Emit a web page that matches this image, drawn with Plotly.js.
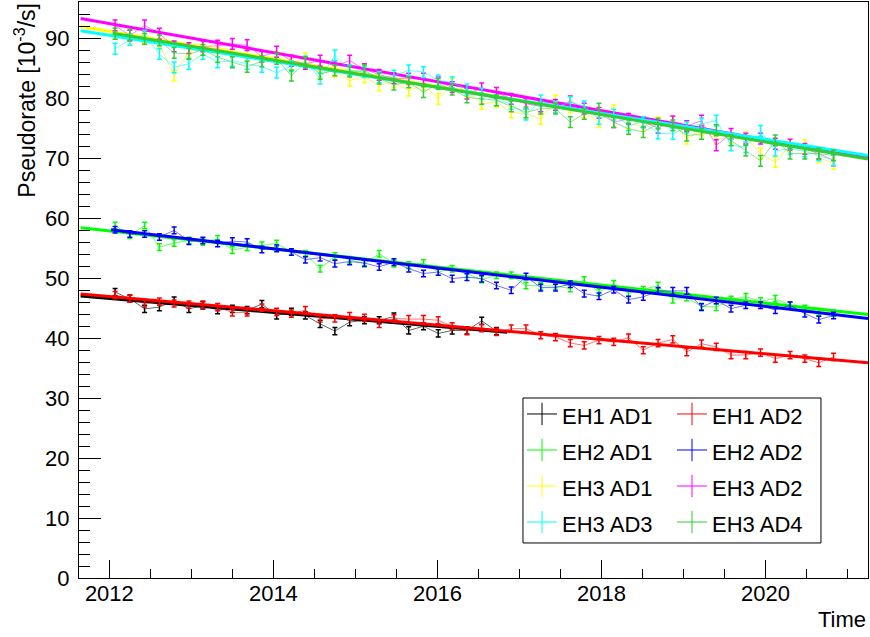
<!DOCTYPE html>
<html><head><meta charset="utf-8">
<script src="https://cdn.plot.ly/plotly-3.0.1.min.js"></script>
<style>html,body{margin:0;padding:0;background:#fff}#chart{width:870px;height:637px}</style>
</head><body><div id="chart"></div>
<script>
// Time of each point (decimal year)
const time = [2012.07, 2012.25, 2012.43, 2012.61, 2012.79, 2012.97, 2013.14, 2013.32, 2013.50, 2013.68,
  2013.86, 2014.04, 2014.22, 2014.39, 2014.57, 2014.75, 2014.93, 2015.11, 2015.29, 2015.47,
  2015.65, 2015.83, 2016.01, 2016.18, 2016.36, 2016.54, 2016.72, 2016.90, 2017.08, 2017.26,
  2017.44, 2017.62, 2017.79, 2017.97, 2018.15, 2018.33, 2018.51, 2018.69, 2018.87, 2019.04,
  2019.22, 2019.40, 2019.58, 2019.76, 2019.94, 2020.12, 2020.30, 2020.48, 2020.65, 2020.83];

const eh1ad1 = [47.7, 46.6, 44.9, 45.2, 46.3, 44.9, 45.5, 44.7, 44.9, 44.7, 45.7, 43.8, 44.4, 43.8, 42.4, 41.2, 42.7,
  43.0, 43.0, 43.6, 41.3, 42.0, 40.8, 41.3, 41.3, 42.9, 41.2];
const eh1ad2 = [47.2, 46.6, 45.8, 46.1, 45.8, 45.6, 45.6, 45.2, 44.3, 44.3, 45.1, 44.4, 44.1, 44.7, 43.3, 43.3,
  43.7, 43.4, 42.4, 43.3, 43.2, 43.2, 43.0, 42.0, 41.2, 41.7, 41.05, 41.6, 41.6, 40.5, 40.2, 39.2, 38.8, 39.7, 39.4, 40.1,
  38.0, 39.2, 39.8, 37.7, 39.1, 38.55, 37.2, 37.2, 37.6, 36.6, 37.2, 36.6, 35.9, 36.9];
const eh2ad1 = [58.8, 57.2, 58.8, 55.2, 55.9, 56.3, 56.05, 56.6, 54.7, 55.2, 55.5, 55.8, 54.4, 54.1, 51.6, 53.7, 53.1,
  52.45, 54.1, 52.45, 52.2, 52.55, 51.05, 51.6, 50.7, 49.8, 50.5, 50.5, 48.8, 48.7, 48.7, 48.3, 49.7, 47.7, 49.1, 47.5,
  48.1, 48.8, 46.45, 46.8, 45.3, 45.2, 46.45, 46.9, 46.2, 46.6, 45.5, 44.95, 44.4, 44.2];
const eh2ad2 = [58.1, 57.4, 57.4, 56.9, 58.0, 56.2, 56.3, 55.8, 56.2, 56.05, 54.8, 55.0, 54.4, 53.1, 53.45, 52.45, 52.8,
  52.55, 51.9, 52.7, 51.6, 50.8, 51.05, 49.95, 50.2, 49.95, 48.8, 48.0, 50.3, 48.45, 48.45, 49.0, 47.45, 47.0, 48.1, 46.45,
  46.9, 47.9, 47.9, 47.9, 45.2, 46.3, 44.95, 45.5, 45.5, 44.7, 45.5, 44.1, 43.1, 43.8];
const eh3ad1 = [90.8, 89.95, 90.2, 89.1, 83.8, 88.0, 88.0, 88.55, 88.0, 87.2, 86.9, 86.9,
  85.8, 86.7, 84.4, 84.5, 83.0, 83.55, 82.2, 82.7, 81.3, 82.3, 79.95, 82.45, 81.2,
  79.1, 79.4, 77.7, 77.45, 76.6, 79.7, 78.55, 77.7, 76.05, 78.0, 75.8, 75.4, 76.0,
  76.1, 73.3, 74.7, 73.3, 73.4, 73.5, 70.8, 69.4, 72.2, 72.2, 70.2, 69.1];
const eh3ad2 = [92.2, 90.5, 92.2, 90.8, 88.7, 88.4, 88.7, 88.8, 89.1, 88.9, 87.0, 87.8,
  86.3, 85.8, 86.3, 85.4, 86.3, 84.9, 83.95, 83.4, 83.3, 83.3, 82.7, 81.9, 80.8,
  81.7, 80.95, 79.95, 79.1, 78.7, 78.95, 79.5, 78.3, 77.6, 76.05, 76.6, 76.05, 75.1,
  76.2, 75.4, 76.3, 72.2, 74.1, 73.3, 73.3, 72.45, 72.3, 71.6, 70.8, 69.7];
const eh3ad3 = [88.3, 89.8, 90.5, 87.45, 85.2, 85.8, 87.45, 86.05, 86.3, 85.8, 85.3, 84.3,
  85.4, 86.2, 83.3, 87.2, 84.7, 84.4, 83.55, 83.8, 84.7, 84.4, 83.0, 82.7, 81.5,
  80.8, 79.7, 79.1, 77.3, 79.7, 78.55, 79.4, 78.7, 76.6, 77.3, 75.5, 76.05, 74.2,
  74.1, 75.2, 75.8, 76.3, 72.2, 71.9, 74.6, 71.3, 71.6, 71.2, 70.5, 69.7];
const eh3ad4 = [90.8, 90.6, 89.95, 89.7, 87.6, 87.45, 88.1, 86.9, 86.05, 85.3, 86.2, 86.6,
  83.8, 86.05, 84.1, 84.7, 84.5, 84.7, 83.3, 82.3, 82.7, 81.05, 82.45, 81.5, 80.2,
  79.95, 79.7, 78.7, 77.7, 78.3, 78.3, 76.05, 77.45, 78.3, 76.05, 74.95, 74.4, 75.8,
  75.5, 73.8, 74.1, 74.7, 73.0, 71.3, 69.6, 73.0, 70.8, 70.8, 70.8, 70.5];

const seriesNames = ['EH1 AD1', 'EH1 AD2', 'EH2 AD1', 'EH2 AD2', 'EH3 AD1', 'EH3 AD2', 'EH3 AD3', 'EH3 AD4'];
const seriesValues = [eh1ad1, eh1ad2, eh2ad1, eh2ad2, eh3ad1, eh3ad2, eh3ad3, eh3ad4];
const seriesErrors = [0.6, 0.6, 0.55, 0.55, 0.9, 0.9, 0.9, 0.9];

// Linear fit of each series: start/end time and value
const fitStart = [2011.65, 2011.65, 2011.65, 2012.02, 2011.65, 2011.65, 2011.65, 2012.04];
const fitEnd   = [2016.85, 2021.25, 2021.25, 2021.25, 2021.25, 2021.25, 2021.25, 2021.25];
const fitStartValue = [47.05, 47.4, 58.45, 58.1, 92.0, 93.35, 91.3, 90.9];
const fitEndValue   = [41.0, 35.9, 43.95, 43.3, 70.0, 70.1, 70.5, 69.9];

const colors = ['#000000', '#ff0000', '#00ff00', '#0000ff', '#ffff00', '#ff00ff', '#00ffff', '#33cc33'];
const faded  = ['rgba(0,0,0,0.6)', 'rgba(255,0,0,0.55)', 'rgba(0,255,0,0.6)', 'rgba(0,0,255,0.55)',
                'rgba(255,230,0,0.6)', 'rgba(255,0,255,0.5)', 'rgba(0,255,255,0.6)', 'rgba(51,204,51,0.55)'];

const FONT = 'Liberation Sans, Arial, Helvetica, sans-serif';
const traces = [];
seriesNames.forEach((name, k) => {
  const vals = seriesValues[k];
  traces.push({
    type: 'scatter', mode: 'lines', name: name, showlegend: false,
    x: time.slice(0, vals.length), y: vals,
    line: {color: faded[k], width: 1},
    error_y: {type: 'constant', value: seriesErrors[k], color: colors[k], thickness: 1.5, width: 2.5},
    hoverinfo: 'skip'
  });
  traces.push({
    type: 'scatter', mode: 'lines', name: name + ' fit', showlegend: false,
    x: [fitStart[k], fitEnd[k]],
    y: [fitStartValue[k], fitEndValue[k]],
    line: {color: colors[k], width: 3},
    hoverinfo: 'skip'
  });
});
// legend entries: two columns (even index -> left column, odd -> right column)
seriesNames.forEach((name, k) => {
  traces.push({
    type: 'scatter', mode: 'lines+markers',
    name: '<span style="font-size:22px">' + name + '</span>', showlegend: true,
    legend: (k % 2 === 0) ? 'legend' : 'legend2',
    x: [null], y: [null],
    line: {color: colors[k], width: 1},
    marker: {symbol: 'line-ns-open', size: 16, color: colors[k], line: {color: colors[k], width: 1}}
  });
});

const legendCommon = {
  orientation: 'v', yanchor: 'top', xanchor: 'left', traceorder: 'normal',
  bgcolor: 'rgba(0,0,0,0)', borderwidth: 0,
  font: {family: FONT, size: 25.4, color: '#000'}
};

const layout = {
  width: 870, height: 637,
  margin: {l: 79, r: 2, t: 2, b: 59, autoexpand: false},
  paper_bgcolor: '#ffffff', plot_bgcolor: '#ffffff',
  font: {family: FONT, size: 22, color: '#000'},
  showlegend: true,
  xaxis: {
    range: [2011.63, 2021.25], tickmode: 'linear', tick0: 2012, dtick: 2, tickformat: 'd',
    ticks: 'inside', ticklen: 18, tickwidth: 1, tickcolor: '#000',
    minor: {ticks: 'inside', dtick: 0.5, tick0: 2012, ticklen: 9, tickwidth: 1, tickcolor: '#000', showgrid: false},
    showgrid: false, zeroline: false, showline: true, linecolor: '#000', linewidth: 1, mirror: true,
    tickfont: {family: FONT, size: 22, color: '#000'}, ticklabelstandoff: -4
  },
  yaxis: {
    range: [0, 96.1], tickmode: 'linear', tick0: 0, dtick: 10,
    ticks: 'inside', ticklen: 22, tickwidth: 1, tickcolor: '#000',
    minor: {ticks: 'inside', dtick: 2, tick0: 0, ticklen: 11, tickwidth: 1, tickcolor: '#000', showgrid: false},
    showgrid: false, zeroline: false, showline: true, linecolor: '#000', linewidth: 1, mirror: true,
    tickfont: {family: FONT, size: 22, color: '#000'}, ticklabelstandoff: 4
  },
  legend: Object.assign({}, legendCommon, {x: 0.5615, y: 0.3247}),
  legend2: Object.assign({}, legendCommon, {x: 0.7516, y: 0.3247}),
  shapes: [
    {type: 'rect', xref: 'paper', yref: 'paper', x0: 0.5627, x1: 0.9404, y0: 0.0608, y1: 0.3125,
     line: {color: '#000', width: 1}, fillcolor: 'rgba(255,255,255,1)', layer: 'above'}
  ],
  annotations: [
    {text: 'Pseudorate [10<sup>-3</sup>/s]', xref: 'paper', yref: 'paper', x: -0.068, y: 1.002,
     xanchor: 'center', yanchor: 'top', textangle: -90, showarrow: false,
     font: {family: FONT, size: 23, color: '#000'}},
    {text: 'Time', xref: 'paper', yref: 'paper', x: 1, y: -0.047, xanchor: 'right', yanchor: 'top',
     showarrow: false, font: {family: FONT, size: 22, color: '#000'}}
  ]
};

Plotly.newPlot('chart', traces, layout, {staticPlot: true, displayModeBar: false});
</script>
</body></html>
